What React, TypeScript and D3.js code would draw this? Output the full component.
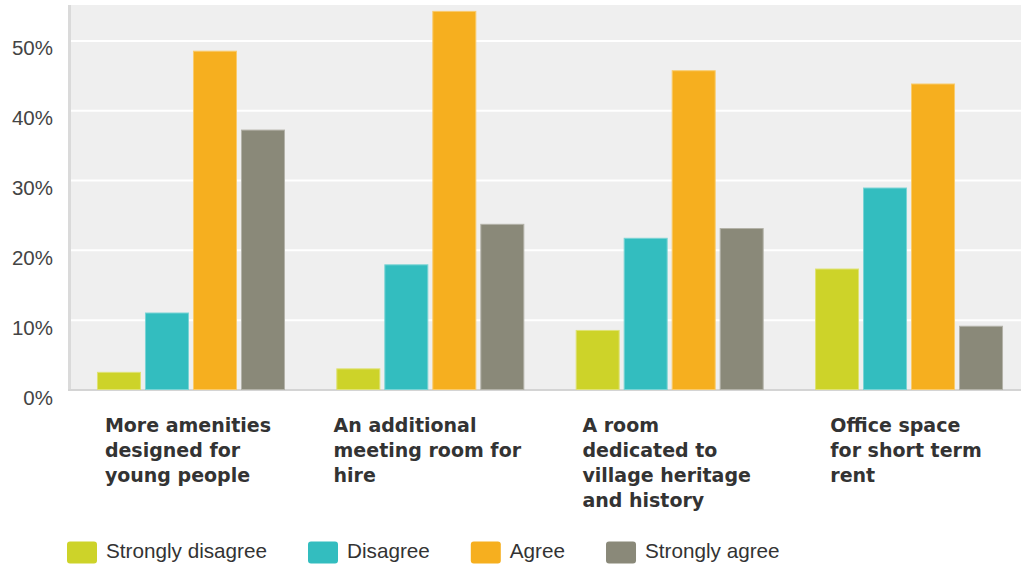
import React, { useEffect, useRef } from "react";
import * as d3 from "d3";

const categories = [
  "More amenities designed for young people",
  "An additional meeting room for hire",
  "A room dedicated to village heritage and history",
  "Office space for short term rent",
];
const categoryLines = [
  ["More amenities", "designed for", "young people"],
  ["An additional", "meeting room for", "hire"],
  ["A room", "dedicated to", "village heritage", "and history"],
  ["Office space", "for short term", "rent"],
];
const seriesNames = ["Strongly disagree", "Disagree", "Agree", "Strongly agree"];
const seriesColors = ["#cdd329", "#33bdbf", "#f6af1f", "#8a8979"];
const stronglyDisagree = [0.026, 0.031, 0.086, 0.174];
const disagree = [0.111, 0.18, 0.218, 0.29];
const agree = [0.486, 0.543, 0.458, 0.439];
const stronglyAgree = [0.373, 0.238, 0.232, 0.092];
const seriesValues = [stronglyDisagree, disagree, agree, stronglyAgree];
const yTicks = [0, 0.1, 0.2, 0.3, 0.4, 0.5];

const W = 1021;
const H = 564;

export default function App() {
  const ref = useRef<SVGSVGElement | null>(null);

  useEffect(() => {
    const svg = d3.select(ref.current);
    svg.selectAll("*").remove();

    const left = 71.3;
    const right = 1028.7;
    const top = 5;
    const bottom = 390;

    const y = d3.scaleLinear().domain([0, 0.55]).range([bottom, top + 1]);
    const x0 = d3.scaleBand<string>().domain(categories).range([left, right]).padding(0);
    const x1 = d3
      .scaleBand<string>()
      .domain(seriesNames)
      .range([0, 188])
      .paddingInner(4 / 48)
      .paddingOuter(0);
    const groupOffset = (x0.bandwidth() - 188) / 2;

    // plot background
    svg
      .append("rect")
      .attr("x", 71)
      .attr("y", top)
      .attr("width", W - 71)
      .attr("height", bottom - top)
      .attr("fill", "#efefef");

    // gridlines
    svg
      .append("g")
      .selectAll("line")
      .data(yTicks.filter((t) => t > 0))
      .join("line")
      .attr("x1", 71)
      .attr("x2", W)
      .attr("y1", (d) => y(d))
      .attr("y2", (d) => y(d))
      .attr("stroke", "#ffffff")
      .attr("stroke-width", 2);

    // axes lines
    svg
      .append("line")
      .attr("x1", 69.5)
      .attr("x2", 69.5)
      .attr("y1", top)
      .attr("y2", bottom + 1)
      .attr("stroke", "#dadada")
      .attr("stroke-width", 3);
    svg
      .append("line")
      .attr("x1", 68)
      .attr("x2", W)
      .attr("y1", bottom)
      .attr("y2", bottom)
      .attr("stroke", "#d4d4d4")
      .attr("stroke-width", 2);

    // y tick labels
    svg
      .append("g")
      .selectAll("text")
      .data(yTicks)
      .join("text")
      .attr("x", 53)
      .attr("y", (d) => y(d) + 14.5)
      .attr("text-anchor", "end")
      .attr("font-family", "'Liberation Sans', Arial, sans-serif")
      .attr("font-size", 20.5)
      .attr("fill", "#444")
      .text((d) => d3.format(".0%")(d));

    // bars
    seriesNames.forEach((s, si) => {
      const col = seriesColors[si];
      const stroke = d3.interpolateRgb(col, "#ffffff")(0.35);
      svg
        .append("g")
        .selectAll("rect")
        .data(seriesValues[si])
        .join("rect")
        .attr("x", (d, i) => (x0(categories[i]) as number) + groupOffset + (x1(s) as number) + 0.5)
        .attr("y", (d) => y(d) + 0.5)
        .attr("width", x1.bandwidth() - 1)
        .attr("height", (d) => bottom - y(d) - 1)
        .attr("fill", col)
        .attr("stroke", stroke)
        .attr("stroke-width", 1);
    });

    // category labels
    categories.forEach((c, ci) => {
      const cx = (x0(c) as number) + x0.bandwidth() / 2 - 3;
      const g = svg.append("g");
      const texts = g
        .selectAll("text")
        .data(categoryLines[ci])
        .join("text")
        .attr("y", (d, i) => 432 + i * 25)
        .attr("font-family", "'DejaVu Sans', Verdana, sans-serif")
        .attr("font-weight", "bold")
        .attr("font-size", 19)
        .attr("fill", "#333")
        .text((d) => d);
      let maxW = 0;
      texts.each(function () {
        maxW = Math.max(maxW, (this as SVGTextElement).getComputedTextLength());
      });
      texts.attr("x", cx - maxW / 2);
    });

    // legend
    let lx = 67;
    seriesNames.forEach((s, si) => {
      const g = svg.append("g");
      g.append("rect")
        .attr("x", lx)
        .attr("y", 541.5)
        .attr("width", 30)
        .attr("height", 22)
        .attr("rx", 3)
        .attr("fill", seriesColors[si]);
      const t = g
        .append("text")
        .attr("x", lx + 39)
        .attr("y", 558)
        .attr("font-family", "'Liberation Sans', Arial, sans-serif")
        .attr("font-size", 20.7)
        .attr("fill", "#333")
        .text(s);
      const tw = (t.node() as SVGTextElement).getComputedTextLength();
      lx = lx + 39 + tw + 41;
    });
  }, []);

  return (
    <div style={{ position: "absolute", left: 0, top: 0, width: W, height: H, background: "#fff" }}>
      <svg ref={ref} width={W} height={H} style={{ display: "block" }} />
    </div>
  );
}
